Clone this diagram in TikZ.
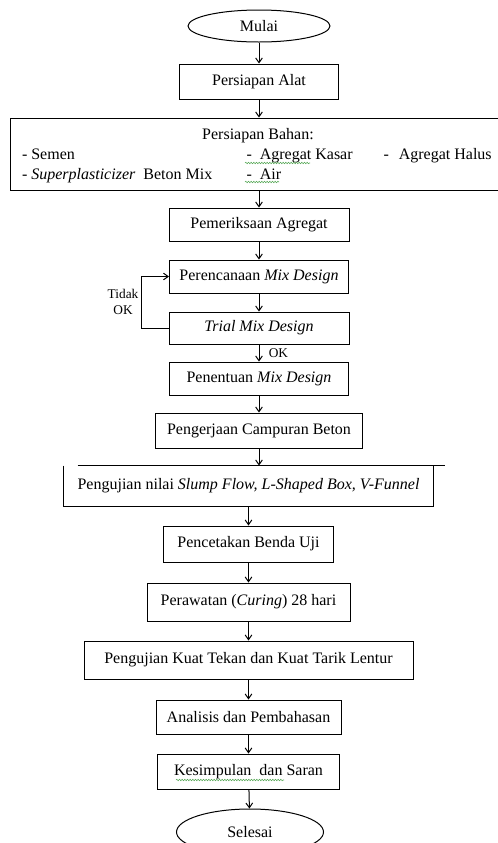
\documentclass[tikz,border=0pt]{standalone}
\usepackage{fontspec}
\setmainfont{Liberation Serif}
\usetikzlibrary{shapes.geometric,arrows.meta,decorations.pathmorphing,calc}

\definecolor{hijau}{RGB}{90,170,90}

\tikzset{every picture/.style={line width=0.75pt}}
\tikzset{
	ukuran/.style 2 args={minimum width=#1*0.75pt, minimum height=#2*0.75pt},
	kotak/.style={draw, rectangle, inner sep=0pt, align=center, font=\fontsize{12}{14}\selectfont},
	oval/.style={draw, ellipse, inner sep=0pt, font=\fontsize{12}{14}\selectfont},
	teks/.style={inner sep=0pt, font=\fontsize{12}{14}\selectfont},
	ket/.style={inner sep=2pt, align=center, font=\fontsize{10}{12}\selectfont},
	panah/.style={-{Straight Barb[length=3.5pt,width=5pt]}},
	coretan/.style={draw=hijau, line width=0.4pt, decorate, decoration={snake, amplitude=0.6pt, segment length=2pt}}
}

\begin{document}
\begin{tikzpicture}[x=0.75pt, y=-0.75pt]
		%\draw [help lines] (0,0) grid (497,843);
		\useasboundingbox (0,0) rectangle (497,843);

		\node[oval, ukuran={142}{32}] (mulai) at (259,26) {Mulai};
		\node[kotak, ukuran={159}{35}] (alat) at (259,81.5) {Persiapan Alat};

		% bahan
		\node[kotak, ukuran={495}{72}] (bahan) at (257.5,154) {};
		\node[teks, anchor=base] (judulbahan) at (258,139) {Persiapan Bahan:};
		\node[teks, anchor=base west] (semen) at (21.5,159) {- Semen};
		\node[teks, anchor=base west] (sp) at (21.5,179) {- \textit{Superplasticizer}\hspace{6pt}Beton Mix};
		\node[teks, anchor=base west] (kasar) at (246,159) {-\hspace{6pt}Agregat Kasar};
		\node[teks, anchor=base west] (air) at (246,179) {-\hspace{6pt}Air};
		\node[teks, anchor=base west] (halus) at (383,159) {-\hspace{7.5pt}Agregat Halus};
		\draw[coretan] (245,163) -- (310,163);
		\draw[coretan] (245,182) -- (279,182);

		\node[kotak, ukuran={180}{33}] (periksa) at (259,224.5) {Pemeriksaan Agregat};
		\node[kotak, ukuran={179}{33}] (rencana) at (259,276.5) {Perencanaan \textit{Mix Design}};
		\node[kotak, ukuran={180}{32}] (trial) at (259,328) {\textit{Trial Mix Design}};
		\node[kotak, ukuran={179}{33}] (tentu) at (259,378.5) {Penentuan \textit{Mix Design}};
		\node[kotak, ukuran={207}{35}] (kerja) at (259,430.5) {Pengerjaan Campuran Beton};

		% kotak pengujian, garis atas bergeser
		\node[teks, ukuran={369}{40}] (uji) at (248.5,486) {Pengujian nilai \textit{Slump Flow, L-Shaped Box, V-Funnel}};
		\draw (uji.north west) -- (uji.south west) -- (uji.south east) -- (uji.north east);
		\draw ($(uji.north west)+(14,0)$) -- ($(uji.north east)+(11,0)$);

		\node[kotak, ukuran={170}{36}] (cetak) at (248.5,544) {Pencetakan Benda Uji};
		\node[kotak, ukuran={203}{38}] (rawat) at (248.5,602) {Perawatan (\textit{Curing}) 28 hari};
		\node[kotak, ukuran={329}{38}] (tekan) at (248.5,660) {Pengujian Kuat Tekan dan Kuat Tarik Lentur};
		\node[kotak, ukuran={185}{34}] (analisis) at (248.5,717) {Analisis dan Pembahasan};
		\node[kotak, ukuran={182}{35}] (simpul) at (248.5,771.5) {Kesimpulan\hspace{6pt}dan Saran};
		\draw[coretan] (176,780) -- (284,780);
		\node[oval, ukuran={147}{46}] (selesai) at (250,832) {Selesai};

		\draw[panah] (mulai) -- (alat);
		\draw[panah] (alat) -- (alat |- bahan.north);
		\draw[panah] (bahan.south -| periksa) -- (periksa);
		\draw[panah] (periksa) -- (rencana);
		\draw[panah] (rencana) -- (trial);
		\draw[panah] (trial) -- node[ket, right=5pt] {OK} (tentu);
		\draw[panah] (trial.west) -- ++(-27,0) |- node[ket, left, pos=0.25] {Tidak\\OK} (rencana.west);
		\draw[panah] (tentu) -- (kerja);
		\draw[panah] (kerja) -- (kerja |- uji.north);
		\draw[panah] (uji) -- (cetak);
		\draw[panah] (cetak) -- (rawat);
		\draw[panah] (rawat) -- (tekan);
		\draw[panah] (tekan) -- (analisis);
		\draw[panah] (analisis) -- (simpul);
		\draw[panah] (simpul) -- (selesai);
	\end{tikzpicture}
\end{document}
